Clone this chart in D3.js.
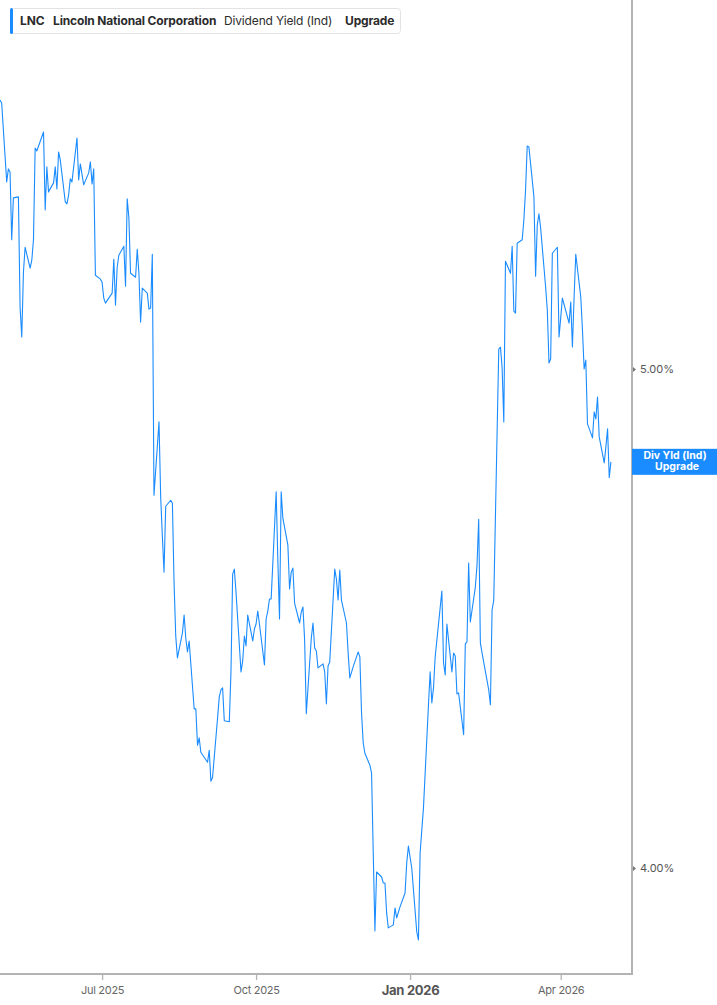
<!DOCTYPE html>
<html><head><meta charset="utf-8">
<script src="https://cdn.jsdelivr.net/npm/d3@7"></script>
<style>
html,body{margin:0;padding:0;background:#fff;}
svg{display:block;font-family:Inter,"Noto Sans",sans-serif;}
</style>
</head><body>
<svg id="chart" width="717" height="1005"></svg>
<script>
// ---- data ----
const legendTicker = "LNC";
const legendName = "Lincoln National Corporation";
const legendMetric = "Dividend Yield (Ind)";
const legendUpgrade = "Upgrade";
const tagLines = ["Div Yld (Ind)", "Upgrade"];

const startDate = "2025-05-01";
const marketHolidays = ["2025-05-26","2025-06-19","2025-07-04","2025-09-01","2025-11-27",
  "2025-12-25","2026-01-01","2026-01-19","2026-02-16","2026-04-03"];

const divYield = [
  5.539,5.533,5.375,5.401,5.395,5.259,5.343,5.345,5.124,5.064,
  5.194,5.244,5.202,5.218,5.259,5.443,5.437,5.475,5.319,5.405,
  5.355,5.373,5.405,5.361,5.435,5.419,5.335,5.331,5.349,5.381,
  5.375,5.463,5.379,5.411,5.369,5.393,5.415,5.371,5.401,5.188,
  5.180,5.174,5.142,5.132,5.152,5.220,5.128,5.204,5.228,5.246,
  5.166,5.341,5.303,5.192,5.184,5.240,5.192,5.094,5.162,5.152,
  5.120,5.122,5.230,
  4.747,4.894,4.743,4.665,4.593,4.725,4.737,4.731,4.571,4.465,
  4.421,4.471,4.507,4.461,4.433,4.455,4.319,4.319,4.246,4.261,
  4.232,4.212,4.236,4.174,4.182,4.301,4.343,4.357,4.361,4.295,
  4.293,4.393,4.589,4.599,4.553,4.393,4.415,4.465,4.445,4.507,
  4.455,4.479,4.489,4.515,4.489,4.407,4.499,4.515,4.539,4.539,
  4.754,
  4.617,4.499,4.754,4.701,4.647,4.559,4.593,4.601,4.531,4.491,
  4.513,4.523,4.457,4.309,4.461,4.491,4.441,4.435,4.401,4.409,
  4.393,4.329,4.405,4.413,4.599,4.579,4.537,4.597,4.537,4.491,
  4.431,4.381,4.403,4.433,4.423,4.311,4.251,4.230,4.206,4.190,
  4.030,3.874,3.992,3.982,3.970,3.970,3.910,3.880,3.886,3.920,
  3.900,3.922,3.950,4.010,4.044,4.000,3.872,3.856,4.030,
  4.076,4.120,4.327,4.393,4.331,4.361,4.423,4.555,4.411,4.387,
  4.489,4.393,4.431,4.425,4.349,4.351,4.267,4.449,4.453,4.611,
  4.493,4.563,4.607,4.699,4.451,4.431,4.357,4.327,4.517,4.537,
  5.040,5.044,5.002,4.894,5.216,5.192,5.246,5.116,5.112,5.252,
  5.259,5.299,5.359,5.447,5.445,5.345,5.186,5.289,5.311,5.283,
  5.164,5.118,5.012,5.020,5.232,5.244,5.064,5.102,5.142,5.092,
  5.134,5.044,5.144,5.230,5.144,5.078,5.000,5.018,4.890,4.862,
  4.914,4.900,4.944,4.864,4.812,4.844,4.880,4.782,4.814
];

const xTickDates = ["2025-07-01","2025-10-01","2026-01-01","2026-04-01"];
const xTickLabels = ["Jul 2025","Oct 2025","Jan 2026","Apr 2026"];
const yTickValues = [4, 5];

// ---- build trading-day dates ----
const parse = d3.timeParse("%Y-%m-%d");
const fmt = d3.timeFormat("%Y-%m-%d");
const holidaySet = new Set(marketHolidays);
const dates = [];
let cur = parse(startDate);
while (dates.length < divYield.length) {
  const dow = cur.getDay();
  if (dow !== 0 && dow !== 6 && !holidaySet.has(fmt(cur))) dates.push(new Date(cur));
  cur = d3.timeDay.offset(cur, 1);
}
const series = dates.map((d, i) => ({date: d, value: divYield[i]}));

// ---- layout ----
const W = 717, H = 1005;
const plotRight = 632, plotBottom = 974;
const svg = d3.select("#chart");

const x = d3.scaleTime()
  .domain([parse("2025-05-01"), parse("2026-05-13")])
  .range([0, plotRight - 1]);
const y = d3.scaleLinear()
  .domain([3.7876, 5.7395])
  .range([plotBottom, 0]);

// line
const line = d3.line().x(d => x(d.date)).y(d => y(d.value));
svg.append("path")
  .datum(series)
  .attr("fill", "none")
  .attr("stroke", "#1a8cff")
  .attr("stroke-width", 1.1)
  .attr("stroke-linejoin", "round")
  .attr("d", line);

// bottom axis
const xAxis = d3.axisBottom(x)
  .tickValues(xTickDates.map(parse))
  .tickFormat((d, i) => xTickLabels[i])
  .tickSize(6).tickPadding(6);
const gx = svg.append("g").attr("transform", `translate(0,${plotBottom})`).call(xAxis);
gx.select(".domain").remove();
gx.selectAll(".tick line").attr("stroke", "#b3b3b3").attr("stroke-width", 1.3);
gx.selectAll(".tick text")
  .attr("fill", "#666")
  .style("font-family", "Inter, sans-serif")
  .style("font-size", "11px")
  .style("letter-spacing", "-0.3px");
gx.selectAll(".tick text").filter((d, i) => xTickLabels[i] === "Jan 2026")
  .style("font-size", "13px").style("font-weight", "700").attr("fill", "#555");

// right axis
const yAxis = d3.axisRight(y)
  .tickValues(yTickValues)
  .tickFormat(d => d3.format(".2f")(d) + "%")
  .tickSize(0).tickPadding(8);
const gy = svg.append("g").attr("transform", `translate(${plotRight},0)`).call(yAxis);
gy.select(".domain").remove();
gy.selectAll(".tick text")
  .attr("fill", "#555")
  .style("font-family", "Inter, sans-serif")
  .style("font-size", "11px");
gy.selectAll(".tick").append("path")
  .attr("d", "M1,-2.5L4,0L1,2.5Z")
  .attr("fill", "#777");

// frame lines
svg.append("line").attr("x1", plotRight).attr("x2", plotRight).attr("y1", 0).attr("y2", plotBottom + 1)
  .attr("stroke", "#b3b3b3").attr("stroke-width", 2);
svg.append("line").attr("x1", 0).attr("x2", plotRight + 1).attr("y1", plotBottom).attr("y2", plotBottom)
  .attr("stroke", "#b3b3b3").attr("stroke-width", 2);

// last-value tag
const last = series[series.length - 1];
const ty = y(last.value);
const tag = svg.append("g");
tag.append("rect").attr("x", plotRight).attr("y", ty - 13).attr("width", W - plotRight).attr("height", 26)
  .attr("fill", "#1a8cff");
tag.selectAll("text").data(tagLines).join("text")
  .attr("x", (d, i) => 675 + i * 2).attr("y", (d, i) => ty - 2.5 + i * 11)
  .attr("text-anchor", "middle")
  .attr("fill", "#fff")
  .style("font-size", "10.5px").style("font-weight", "700")
  .text(d => d);

// legend
const lg = svg.append("g");
lg.append("rect").attr("x", 10.5).attr("y", 8.5).attr("width", 390).attr("height", 25).attr("rx", 3)
  .attr("fill", "#fff").attr("stroke", "#e3e3e3");
lg.append("rect").attr("x", 10).attr("y", 8).attr("width", 3).attr("height", 26).attr("rx", 1.5)
  .attr("fill", "#1a8cff");
const legendItems = [
  {t: legendTicker, x: 20, w: 700},
  {t: legendName, x: 53, w: 700},
  {t: legendMetric, x: 224, w: 400},
  {t: legendUpgrade, x: 345, w: 700}
];
lg.selectAll("text.lg").data(legendItems).join("text")
  .attr("class", "lg")
  .attr("x", d => d.x).attr("y", 25)
  .attr("fill", "#2b2b2b")
  .style("font-size", "12px")
  .style("font-weight", d => d.w)
  .style("letter-spacing", "-0.15px")
  .text(d => d.t);
</script>
</body></html>
